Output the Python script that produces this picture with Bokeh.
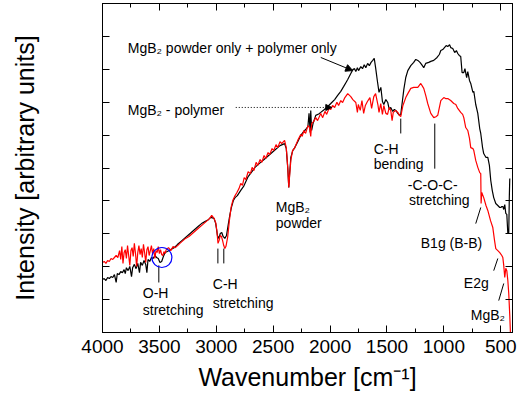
from bokeh.plotting import figure
from bokeh.models import (Range1d, LinearAxis, SingleIntervalTicker,
                          CustomJSTickFormatter, Arrow, NormalHead)
from bokeh.core.properties import value
from bokeh.embed import file_html
from bokeh.resources import INLINE

# ---- data (wavenumber in cm^-1, intensity in arbitrary units) ----
black_wn = [
    4000, 3985, 3970, 3955, 3940, 3925, 3910, 3895, 3880, 3870,
    3855, 3840, 3825, 3810, 3800, 3790, 3775, 3760, 3745, 3735,
    3720, 3705, 3690, 3675, 3665, 3650, 3635, 3620, 3610, 3600,
    3585, 3570, 3555, 3540, 3525, 3510, 3495, 3480, 3465, 3450,
    3430, 3400, 3370, 3340, 3310, 3280, 3250, 3220, 3190, 3160,
    3130, 3100, 3070, 3048, 3020, 3005, 2990, 2978, 2965, 2952,
    2940, 2925, 2910, 2895, 2880, 2865, 2850, 2835, 2815, 2785,
    2760, 2740, 2720, 2700, 2680, 2660, 2640, 2620, 2600, 2580,
    2560, 2540, 2520, 2500, 2480, 2460, 2440, 2420, 2400, 2385,
    2372, 2363, 2355, 2345, 2328, 2310, 2284, 2258, 2231, 2215,
    2195, 2185, 2175, 2170, 2162, 2150, 2126, 2100, 2082, 2050,
    2020, 1994, 1960, 1935, 1906, 1880, 1860, 1845, 1818, 1800,
    1785, 1774, 1760, 1750, 1730, 1715, 1700, 1686, 1670, 1655,
    1640, 1625, 1612, 1600, 1585, 1570, 1554, 1540, 1528, 1510,
    1493, 1480, 1467, 1449, 1435, 1423, 1405, 1390, 1379, 1365,
    1352, 1335, 1317, 1291, 1265, 1247, 1229, 1210, 1195, 1177,
    1160, 1133, 1115, 1089, 1060, 1040, 1027, 1010, 995, 980,
    966, 950, 940, 922, 905, 890, 878, 865, 852, 840,
    825, 815, 800, 790, 775, 764, 745, 737, 720, 702,
    685, 676, 660, 650, 630, 614, 600, 588, 575, 562,
    544, 526, 509, 500, 491, 482, 474, 465, 456, 447,
    438, 430, 425, 421,
]
black_int = [
    1.61, 1.64, 1.58, 1.67, 1.64, 1.70, 1.67, 1.76, 1.52, 1.79,
    1.76, 1.85, 1.82, 1.91, 1.79, 1.97, 1.88, 2.01, 1.70, 1.97,
    2.07, 1.94, 2.10, 1.82, 2.13, 2.04, 2.19, 2.07, 1.82, 2.22,
    2.16, 2.28, 2.25, 2.34, 2.28, 2.25, 2.13, 2.16, 2.31, 2.43,
    2.46, 2.52, 2.58, 2.68, 2.77, 2.86, 2.95, 3.04, 3.13, 3.22,
    3.31, 3.37, 3.43, 3.50, 3.47, 3.31, 2.95, 2.86, 3.01, 3.04,
    2.92, 2.86, 2.95, 3.28, 3.59, 3.83, 4.01, 4.10, 4.16, 4.32,
    4.44, 4.59, 4.74, 4.83, 4.92, 5.02, 5.08, 5.14, 5.20, 5.26,
    5.32, 5.38, 5.44, 5.50, 5.56, 5.62, 5.68, 5.71, 5.74, 5.59,
    5.00, 4.41, 4.86, 5.32, 5.53, 5.62, 5.80, 5.99, 6.11, 6.17,
    6.26, 6.66, 6.08, 6.75, 6.14, 6.35, 6.60, 6.64, 6.69, 6.78,
    6.87, 6.96, 7.08, 7.20, 7.33, 7.48, 7.60, 7.69, 7.87, 7.99,
    8.02, 7.93, 8.05, 7.96, 8.08, 8.02, 8.14, 8.05, 8.18, 8.11,
    8.21, 8.27, 8.33, 8.05, 7.66, 7.30, 7.45, 7.02, 6.93, 7.08,
    6.99, 6.78, 6.84, 6.72, 6.78, 6.75, 6.66, 6.60, 6.63, 7.02,
    7.39, 7.75, 7.96, 8.11, 8.21, 8.30, 8.27, 8.21, 8.14, 8.05,
    8.18, 8.21, 8.24, 8.27, 8.36, 8.45, 8.57, 8.60, 8.66, 8.72,
    8.69, 8.75, 8.66, 8.63, 8.51, 8.57, 8.48, 8.42, 8.39, 7.90,
    7.90, 8.02, 7.75, 7.93, 7.66, 7.57, 7.30, 7.33, 6.93, 6.66,
    6.20, 6.05, 5.62, 5.44, 5.32, 5.32, 5.08, 4.62, 4.32, 4.10,
    3.92, 3.86, 3.80, 3.80, 3.83, 3.83, 3.74, 3.89, 3.62, 3.59,
    3.01, 3.01, 4.10, 4.68,
]

red_wn = [
    4000, 3985, 3970, 3955, 3940, 3925, 3910, 3895, 3880, 3865,
    3850, 3840, 3830, 3820, 3810, 3800, 3790, 3780, 3770, 3760,
    3750, 3740, 3730, 3720, 3710, 3700, 3690, 3680, 3670, 3660,
    3650, 3640, 3630, 3620, 3610, 3600, 3590, 3580, 3570, 3560,
    3550, 3540, 3530, 3520, 3510, 3500, 3490, 3480, 3470, 3460,
    3450, 3440, 3420, 3400, 3380, 3360, 3340, 3320, 3300, 3270,
    3240, 3210, 3180, 3150, 3120, 3090, 3060, 3040, 3020, 3005,
    2995, 2985, 2975, 2965, 2955, 2945, 2935, 2925, 2915, 2900,
    2885, 2870, 2855, 2840, 2820, 2800, 2785, 2770, 2755, 2740,
    2720, 2700, 2685, 2670, 2650, 2635, 2615, 2600, 2580, 2565,
    2545, 2530, 2510, 2495, 2475, 2460, 2440, 2425, 2400, 2385,
    2372, 2363, 2355, 2345, 2330, 2310, 2284, 2258, 2245, 2230,
    2215, 2195, 2180, 2170, 2162, 2145, 2126, 2110, 2082, 2065,
    2045, 2030, 2010, 1994, 1978, 1960, 1940, 1925, 1906, 1890,
    1870, 1845, 1818, 1800, 1774, 1760, 1752, 1735, 1720, 1705,
    1690, 1672, 1650, 1635, 1616, 1600, 1580, 1570, 1555, 1540,
    1528, 1510, 1495, 1480, 1467, 1455, 1445, 1423, 1405, 1390,
    1379, 1360, 1335, 1317, 1291, 1265, 1229, 1203, 1177, 1159,
    1142, 1115, 1089, 1070, 1054, 1027, 1001, 985, 966, 940,
    913, 895, 878, 852, 835, 825, 808, 790, 775, 764,
    745, 737, 720, 702, 685, 676, 673, 667, 650, 630,
    614, 590, 570, 555, 544, 526, 509, 491, 482, 474,
    465, 456, 447, 438, 430, 421, 412,
]
red_int = [
    2.13, 2.16, 2.10, 2.19, 2.16, 2.25, 2.22, 2.28, 2.34, 2.28,
    2.49, 2.22, 2.61, 2.10, 2.43, 2.52, 2.25, 2.64, 2.34, 2.04,
    2.49, 2.58, 2.31, 2.71, 2.40, 2.01, 2.43, 2.64, 2.37, 2.55,
    2.28, 2.68, 2.43, 2.13, 2.52, 2.61, 2.34, 2.49, 2.64, 2.40,
    2.55, 2.25, 2.49, 2.43, 2.61, 2.40, 2.52, 2.37, 2.34, 2.46,
    2.40, 2.52, 2.58, 2.49, 2.61, 2.58, 2.64, 2.71, 2.77, 2.86,
    2.92, 3.01, 3.10, 3.19, 3.28, 3.37, 3.46, 3.56, 3.47, 3.34,
    3.10, 2.71, 2.80, 2.95, 2.92, 2.80, 2.65, 2.55, 2.62, 2.90,
    3.40, 3.80, 4.01, 4.13, 4.25, 4.38, 4.53, 4.47, 4.71, 4.65,
    4.89, 4.83, 5.02, 4.92, 5.17, 5.08, 5.26, 5.17, 5.38, 5.29,
    5.47, 5.41, 5.59, 5.53, 5.71, 5.62, 5.80, 5.74, 5.84, 5.62,
    5.02, 4.41, 4.80, 5.23, 5.53, 5.62, 5.84, 6.02, 5.96, 6.14,
    6.05, 6.29, 6.23, 5.96, 6.35, 6.41, 6.53, 6.44, 6.66, 6.53,
    6.72, 6.63, 6.81, 6.78, 6.90, 6.84, 7.00, 6.90, 7.05, 6.99,
    7.14, 7.26, 7.17, 7.08, 6.99, 6.69, 6.93, 6.75, 7.05, 6.66,
    6.90, 7.02, 7.14, 6.81, 7.17, 7.26, 6.93, 6.69, 6.96, 6.63,
    6.90, 6.66, 6.63, 6.84, 6.75, 6.44, 6.69, 6.75, 6.69, 6.60,
    6.56, 6.90, 7.14, 7.26, 7.42, 7.45, 7.45, 7.57, 7.42, 7.20,
    6.96, 6.66, 6.53, 6.56, 6.60, 7.05, 7.14, 7.11, 7.11, 7.05,
    6.96, 6.93, 6.81, 6.69, 6.63, 6.53, 6.23, 6.14, 5.90, 5.62,
    5.59, 5.53, 5.23, 5.02, 4.86, 4.83, 3.92, 4.26, 4.10, 3.86,
    3.71, 3.40, 3.19, 2.80, 2.55, 2.49, 2.43, 2.34, 2.28, 2.04,
    1.67, 1.95, 1.88, 1.58, 1.19, 0.52, -0.30,
]

x_tick_step = 500
y_tick_step = 1

# annotation texts with anchor (wavenumber, intensity)
note_text = ["MgB\u2082 powder only + polymer only", "MgB\u2082 - polymer",
             "C-H", "bending", "-C-O-C-", "stretching", "B1g (B-B)", "E2g",
             "MgB\u2082", "O-H", "stretching", "C-H", "stretching",
             "MgB\u2082", "powder"]
note_x = [3778, 3778, 1616, 1616, 1317, 1307, 1203, 825, 764,
          3646, 3646, 3031, 3031, 2477, 2477]
note_y = [8.66, 6.75, 5.59, 5.11, 4.47, 4.04, 2.71, 1.49, 0.52,
          1.19, 0.67, 1.46, 0.91, 3.80, 3.34]

# leader lines (x0, y0, x1, y1)
lead_x0 = [1379, 1080, 720, 562, 518, 3505, 2986, 2934]
lead_y0 = [6.50, 6.35, 3.31, 1.88, 0.97, 2.04, 2.55, 2.55]
lead_x1 = [1379, 1080, 676, 526, 474, 3505, 2986, 2934]
lead_y1 = [6.05, 4.98, 3.80, 2.25, 1.49, 1.52, 2.10, 2.10]

FONT = "Liberation Sans"

p = figure(width=523, height=403, output_backend="svg", toolbar_location=None,
           x_range=Range1d(4000, 397), y_range=Range1d(0, 10),
           min_border_left=102, min_border_right=11, min_border_top=3,
           min_border_bottom=71)
p.xgrid.visible = False
p.ygrid.visible = False
p.outline_line_color = "black"
p.outline_line_width = 1


def style(ax, show_labels):
    ax.major_tick_in = 7
    ax.major_tick_out = 0
    ax.minor_tick_in = 4
    ax.minor_tick_out = 0
    ax.axis_line_color = "black"
    ax.major_tick_line_color = "black"
    ax.minor_tick_line_color = "black"
    if not show_labels:
        ax.formatter = CustomJSTickFormatter(code="return ''")
        ax.major_label_text_font_size = "0px"
        ax.major_label_standoff = 0


# bottom axis
xa = p.xaxis[0]
xa.ticker = SingleIntervalTicker(interval=x_tick_step, num_minor_ticks=2)
style(xa, True)
xa.major_label_text_font = FONT
xa.major_label_text_font_size = "19px"
xa.major_label_text_color = "black"
xa.major_label_standoff = 7
xa.axis_label = "Wavenumber [cm\u207b\u00b9]"
xa.axis_label_text_font = FONT
xa.axis_label_text_font_size = "25px"
xa.axis_label_text_font_style = "normal"
xa.axis_label_text_color = "black"
xa.axis_label_standoff = 7

# left axis
ya = p.yaxis[0]
ya.ticker = SingleIntervalTicker(interval=y_tick_step, num_minor_ticks=0)
style(ya, False)
ya.minor_tick_line_color = None
ya.axis_label = "Intensity [arbitrary units]"
ya.axis_label_text_font = FONT
ya.axis_label_text_font_size = "25px"
ya.axis_label_text_font_style = "normal"
ya.axis_label_text_color = "black"
ya.axis_label_standoff = 64

# top and right axes (ticks only)
top = LinearAxis(ticker=SingleIntervalTicker(interval=x_tick_step, num_minor_ticks=2))
style(top, False)
p.add_layout(top, "above")
right = LinearAxis(ticker=SingleIntervalTicker(interval=y_tick_step, num_minor_ticks=0))
style(right, False)
right.minor_tick_line_color = None
p.add_layout(right, "right")

# spectra
p.line(black_wn, black_int, line_color="black", line_width=1.2)
p.line(red_wn, red_int, line_color="#ff0000", line_width=1.2)

# annotations
p.text(note_x, note_y, text=note_text, text_font=value(FONT),
       text_font_size="14px", text_color="black",
       text_align="left", text_baseline="alphabetic")
p.segment(lead_x0, lead_y0, lead_x1, lead_y1, line_color="black", line_width=1)

p.add_layout(Arrow(end=NormalHead(size=7, fill_color="black", line_color="black"),
                   x_start=2082, y_start=8.36, x_end=1801, y_end=7.96,
                   line_color="black", line_width=1))
p.add_layout(Arrow(end=NormalHead(size=6, fill_color="black", line_color="black"),
                   x_start=2829, y_start=6.84, x_end=1985, y_end=6.84,
                   line_color="black", line_width=1, line_dash="1 2"))

# O-H marker circle
p.scatter([3478], [2.28], marker="circle", size=20, fill_color=None,
          line_color="#0000ff", line_width=1.2)

open("out.html", "w").write(file_html(p, INLINE))
